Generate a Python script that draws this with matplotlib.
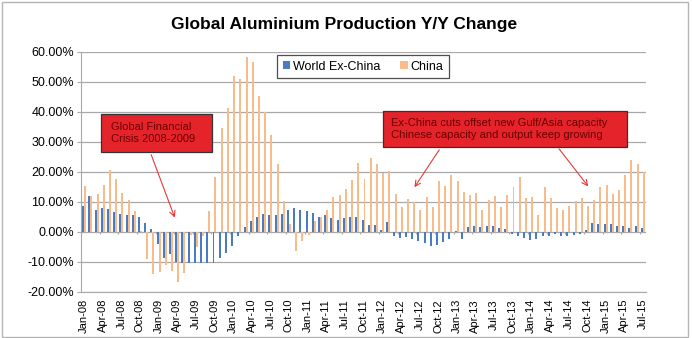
import matplotlib
matplotlib.use("Agg")
import matplotlib.pyplot as plt
import numpy as np
from matplotlib.patches import Rectangle, Patch

plt.rcParams['font.family'] = ['Liberation Sans', 'DejaVu Sans']

# Monthly year-on-year change in aluminium output, Jan-08 .. Jul-15 (%)
world_ex_china = [
    8.6, 11.9, 7.4, 7.9, 7.7, 6.7, 6.0, 5.7, 5.6, 5.1, 2.9, 1.1,
    -3.9, -8.7, -7.2, -10.0, -10.3, -10.3, -10.3, -10.3, -10.3, -10.3, -8.6, -7.0,
    -4.8, -1.4, 1.6, 3.8, 4.9, 6.0, 5.6, 5.6, 6.1, 7.2, 8.0, 7.2,
    6.9, 6.3, 5.0, 5.7, 4.7, 4.1, 4.8, 5.1, 5.0, 4.1, 2.4, 2.3,
    0.8, 3.3, -1.3, -2.0, -1.8, -2.3, -3.1, -3.7, -4.6, -4.4, -3.4, -2.3,
    0.2, -2.3, 1.6, 1.9, 1.6, 2.1, 2.1, 1.3, 1.0, -0.7, -1.4, -2.0,
    -2.6, -2.3, -1.4, -1.2, -0.6, -1.4, -1.3, -1.1, -0.6, 0.8, 3.0, 2.8,
    2.8, 2.7, 2.1, 1.9, 1.3, 1.9, 1.4,
]
china = [
    15.4, 12.1, 12.8, 15.7, 20.8, 17.6, 13.0, 10.7, 6.9, 0.5, -9.0, -14.0,
    -13.2, -10.9, -13.1, -16.7, -13.5, -1.0, -5.0, -1.4, 6.9, 18.2, 34.7, 41.3,
    52.1, 51.0, 58.3, 56.7, 45.4, 39.9, 32.2, 22.8, 10.2, 2.7, -6.4, -3.1,
    -1.1, 3.6, 5.0, 7.2, 11.6, 12.4, 14.4, 17.4, 23.0, 17.8, 24.7, 22.7,
    19.7, 20.2, 12.8, 8.3, 11.0, 10.1, 7.4, 11.6, 8.4, 16.9, 15.4, 18.9,
    17.1, 13.2, 12.4, 13.0, 7.4, 10.8, 12.0, 8.3, 12.4, 14.9, 18.3, 11.3,
    11.6, 5.8, 15.0, 11.3, 8.0, 7.2, 8.6, 10.2, 11.3, 8.8, 10.8, 14.9,
    15.8, 12.7, 14.1, 19.1, 23.9, 22.8, 20.0,
]
tick_labels = [
    "Jan-08", "Apr-08", "Jul-08", "Oct-08", "Jan-09", "Apr-09", "Jul-09", "Oct-09",
    "Jan-10", "Apr-10", "Jul-10", "Oct-10", "Jan-11", "Apr-11", "Jul-11", "Oct-11",
    "Jan-12", "Apr-12", "Jul-12", "Oct-12", "Jan-13", "Apr-13", "Jul-13", "Oct-13",
    "Jan-14", "Apr-14", "Jul-14", "Oct-14", "Jan-15", "Apr-15", "Jul-15",
]
series_names = ["World Ex-China", "China"]

BLUE = "#4a7cc4"
ORANGE = "#fabb8a"
GRID = "#a8a8a8"
BOX_RED = "#e5232a"
BOX_TEXT = "#6a0000"

W, H = 692, 338
fig = plt.figure(figsize=(W / 100, H / 100), dpi=100)
ax = fig.add_axes([81 / W, 1 - 292 / H, 565 / W, 240 / H])

n = len(china)
x = np.arange(n)
ax.bar(x - 0.16, world_ex_china, width=0.32, color=BLUE, zorder=3, linewidth=0)
ax.bar(x + 0.16, china, width=0.32, color=ORANGE, zorder=3, linewidth=0)

ax.set_xlim(-0.5, n - 0.5)
ax.set_ylim(-20, 60)
yt = np.arange(-20, 61, 10)
ax.set_yticks(yt)
ax.set_yticklabels([f"{v:.2f}%" for v in yt], fontsize=9)
ax.yaxis.grid(True, color=GRID, linewidth=0.9)
ax.set_axisbelow(True)
ax.tick_params(axis='y', length=3, color=GRID, pad=2)

ax.set_xticks(x[::3])
ax.set_xticklabels(tick_labels, rotation=90, fontsize=8)
ax.tick_params(axis='x', length=0, pad=5)

for s in ("top", "right"):
    ax.spines[s].set_visible(False)
ax.spines["left"].set_color(GRID)
ax.spines["bottom"].set_color(GRID)

# category tick marks on the zero line, one every quarter
ax.vlines(np.arange(-0.5, n, 3), -0.8, 0, color=GRID, linewidth=0.8, zorder=2)

# legend
handles = [Patch(facecolor=BLUE, edgecolor="none"), Patch(facecolor=ORANGE, edgecolor="none")]
leg = fig.legend(handles, series_names, loc="center",
                 bbox_to_anchor=((274 + 452) / 2 / W, 1 - 66.5 / H),
                 ncol=2, fontsize=9, frameon=True, fancybox=False,
                 handlelength=0.6, handleheight=0.6, handletextpad=0.2,
                 columnspacing=1.6, borderpad=0.45)
leg.get_frame().set_edgecolor("#222222")
leg.get_frame().set_linewidth(0.9)

# annotation boxes
def note_box(x0, x1, y0, y1, text, tx):
    ax.add_patch(Rectangle((x0, y0), x1 - x0, y1 - y0, facecolor=BOX_RED,
                           edgecolor="#333333", linewidth=0.9, zorder=5))
    ax.text(tx, (y0 + y1) / 2, text, ha="left", va="center", fontsize=8,
            color=BOX_TEXT, zorder=6, linespacing=1.25)

note_box(2.7, 20.6, 26.8, 39.4, "Global Financial\nCrisis 2008-2009", 4.3)
note_box(48.1, 87.4, 28.4, 40.4,
         "Ex-China cuts offset new Gulf/Asia capacity\nChinese capacity and output keep growing", 49.5)

arrow = dict(arrowstyle="->", color="#e8393a", linewidth=0.8, shrinkA=0, shrinkB=0)
ax.annotate("", xy=(14.6, 4.8), xytext=(10.8, 25.8), arrowprops=arrow, zorder=6)
ax.annotate("", xy=(53.2, 14.9), xytext=(57.2, 27.4), arrowprops=arrow, zorder=6)
ax.annotate("", xy=(81.2, 15.2), xytext=(76.5, 27.7), arrowprops=arrow, zorder=6)

fig.text(344 / W, 1 - 24 / H, "Global Aluminium Production Y/Y Change",
         ha="center", va="center", fontsize=12.5, fontweight="bold")

# chart frame
fig.patches.append(Rectangle((2 / W, 1 / H), 686 / W, 335 / H, transform=fig.transFigure,
                             fill=False, edgecolor="#b5b5b5", linewidth=1.0))

fig.savefig("out.png", dpi=100)
